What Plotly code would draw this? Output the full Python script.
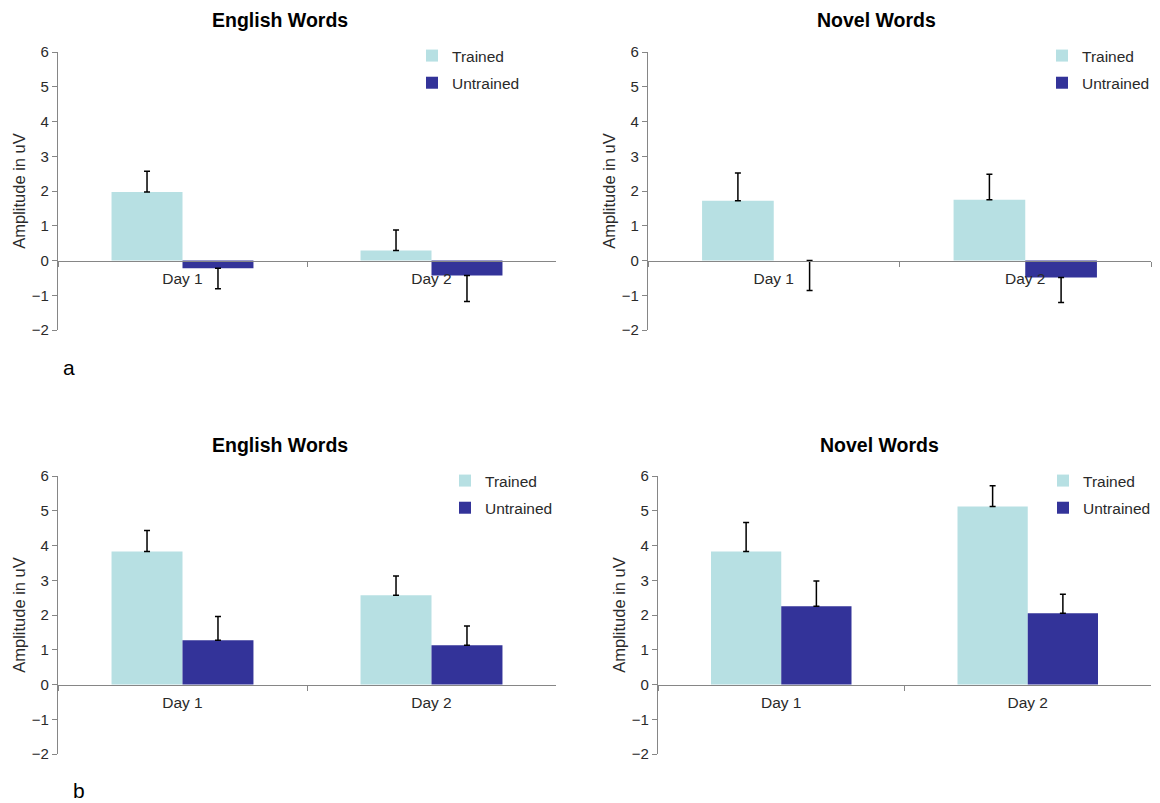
import plotly.graph_objects as go

# ---------------- data ----------------
categories = ["Day 1", "Day 2"]
series_names = ["Trained", "Untrained"]
panel_titles = ["English Words", "Novel Words", "English Words", "Novel Words"]
panel_letters = ["a", "b"]
y_ticks = [-2, -1, 0, 1, 2, 3, 4, 5, 6]
y_title = "Amplitude in uV"

a_english_trained = [1.97, 0.29]
a_english_trained_err = [0.60, 0.59]
a_english_untrained = [-0.22, -0.43]
a_english_untrained_err = [0.59, 0.75]

a_novel_trained = [1.72, 1.75]
a_novel_trained_err = [0.80, 0.73]
a_novel_untrained = [0.0, -0.49]
a_novel_untrained_err = [0.86, 0.72]

b_english_trained = [3.83, 2.57]
b_english_trained_err = [0.60, 0.55]
b_english_untrained = [1.27, 1.13]
b_english_untrained_err = [0.69, 0.55]

b_novel_trained = [3.83, 5.12]
b_novel_trained_err = [0.83, 0.60]
b_novel_untrained = [2.25, 2.05]
b_novel_untrained_err = [0.73, 0.55]

panels = [
    [(a_english_trained, a_english_trained_err), (a_english_untrained, a_english_untrained_err)],
    [(a_novel_trained, a_novel_trained_err), (a_novel_untrained, a_novel_untrained_err)],
    [(b_english_trained, b_english_trained_err), (b_english_untrained, b_english_untrained_err)],
    [(b_novel_trained, b_novel_trained_err), (b_novel_untrained, b_novel_untrained_err)],
]

# ---------------- style ----------------
PAGE_W, PAGE_H = 1160, 803
OFF = 8  # the page body margin shifts the figure by this many px
W, H = PAGE_W - OFF, PAGE_H - OFF
colors = ["#B7E0E3", "#333399"]
axis_color = "#868686"
text_color = "#2a2a2a"
font_family = "Liberation Sans, Arial, sans-serif"
Y_MIN, Y_MAX = -2, 6

# pixel boxes of plot areas in page pixels: (left, right, top, bottom)
boxes = [
    (58, 556, 52, 330),
    (648, 1151, 52, 330),
    (58, 556, 476, 754),
    (658, 1151, 476, 754),
]
legend_pos = [(412, 39), (1042, 39), (445, 464), (1043, 464)]
title_pos = [(280, 20), (876, 20), (280, 445), (879, 445)]
letter_pos = [(69, 367), (79, 790)]


def px_x(x):
    return (x - OFF) / W


def px_y(y):
    return 1 - (y - OFF) / H


fig = go.Figure()
layout = dict(
    width=W, height=H,
    margin=dict(l=0, r=0, t=0, b=0, pad=0, autoexpand=False),
    paper_bgcolor="white", plot_bgcolor="white",
    font=dict(family=font_family, size=15, color=text_color),
    barmode="group", bargap=0.43, bargroupgap=0,
    annotations=[],
)

for i, (panel, box) in enumerate(zip(panels, boxes)):
    n = i + 1
    sfx = "" if n == 1 else str(n)
    xa, ya = "x" + sfx, "y" + sfx
    lg = "legend" + sfx
    for j, (vals, errs) in enumerate(panel):
        up = [e if v > 0 else 0 for v, e in zip(vals, errs)]
        dn = [e if v <= 0 else 0 for v, e in zip(vals, errs)]
        fig.add_trace(go.Bar(
            x=categories, y=vals, name=series_names[j],
            marker=dict(color=colors[j], line=dict(width=0)),
            error_y=dict(type="data", symmetric=False, array=up, arrayminus=dn,
                         color="black", thickness=1.5, width=3),
            xaxis=xa, yaxis=ya, legend=lg, legendgroup=series_names[j] + sfx,
        ))
    l, r, t, b = box
    ydom = [px_y(b), px_y(t)]
    zero_pos = ydom[0] + (0 - Y_MIN) / (Y_MAX - Y_MIN) * (ydom[1] - ydom[0])
    layout["xaxis" + sfx] = dict(
        domain=[px_x(l), px_x(r)], anchor="free", position=zero_pos,
        type="category", range=[-0.5, 1.5], automargin=False,
        showline=True, linecolor=axis_color, linewidth=1.2,
        ticks="outside", tickson="boundaries", ticklen=5, tickcolor=axis_color,
        ticklabelstandoff=4,
        showgrid=False, zeroline=False, tickfont=dict(size=15.5, color=text_color),
    )
    layout["yaxis" + sfx] = dict(
        domain=ydom, anchor=xa, range=[Y_MIN, Y_MAX], automargin=False,
        tickmode="array", tickvals=y_ticks,
        showline=True, linecolor=axis_color, linewidth=1.2,
        ticks="outside", ticklen=5, tickcolor=axis_color,
        showgrid=False, zeroline=False, tickfont=dict(size=15, color=text_color),
        title=dict(text=y_title, font=dict(size=16.5, color=text_color), standoff=2),
    )
    lx, ly = legend_pos[i]
    layout[lg] = dict(
        x=px_x(lx), y=px_y(ly), xanchor="left", yanchor="top",
        bgcolor="rgba(0,0,0,0)", font=dict(size=15.5, color=text_color),
        tracegroupgap=4, itemclick=False,
    )
    tx, ty = title_pos[i]
    layout["annotations"].append(dict(
        text="<b>" + panel_titles[i] + "</b>", x=px_x(tx), y=px_y(ty),
        xref="paper", yref="paper", showarrow=False,
        font=dict(size=19.5, color="black"), xanchor="center", yanchor="middle",
    ))

for k, letter in enumerate(panel_letters):
    lx, ly = letter_pos[k]
    layout["annotations"].append(dict(
        text=letter, x=px_x(lx), y=px_y(ly), xref="paper", yref="paper",
        showarrow=False, font=dict(size=21, color="black"),
        xanchor="center", yanchor="middle",
    ))

fig.update_layout(**layout)
fig.write_html("out.html")
